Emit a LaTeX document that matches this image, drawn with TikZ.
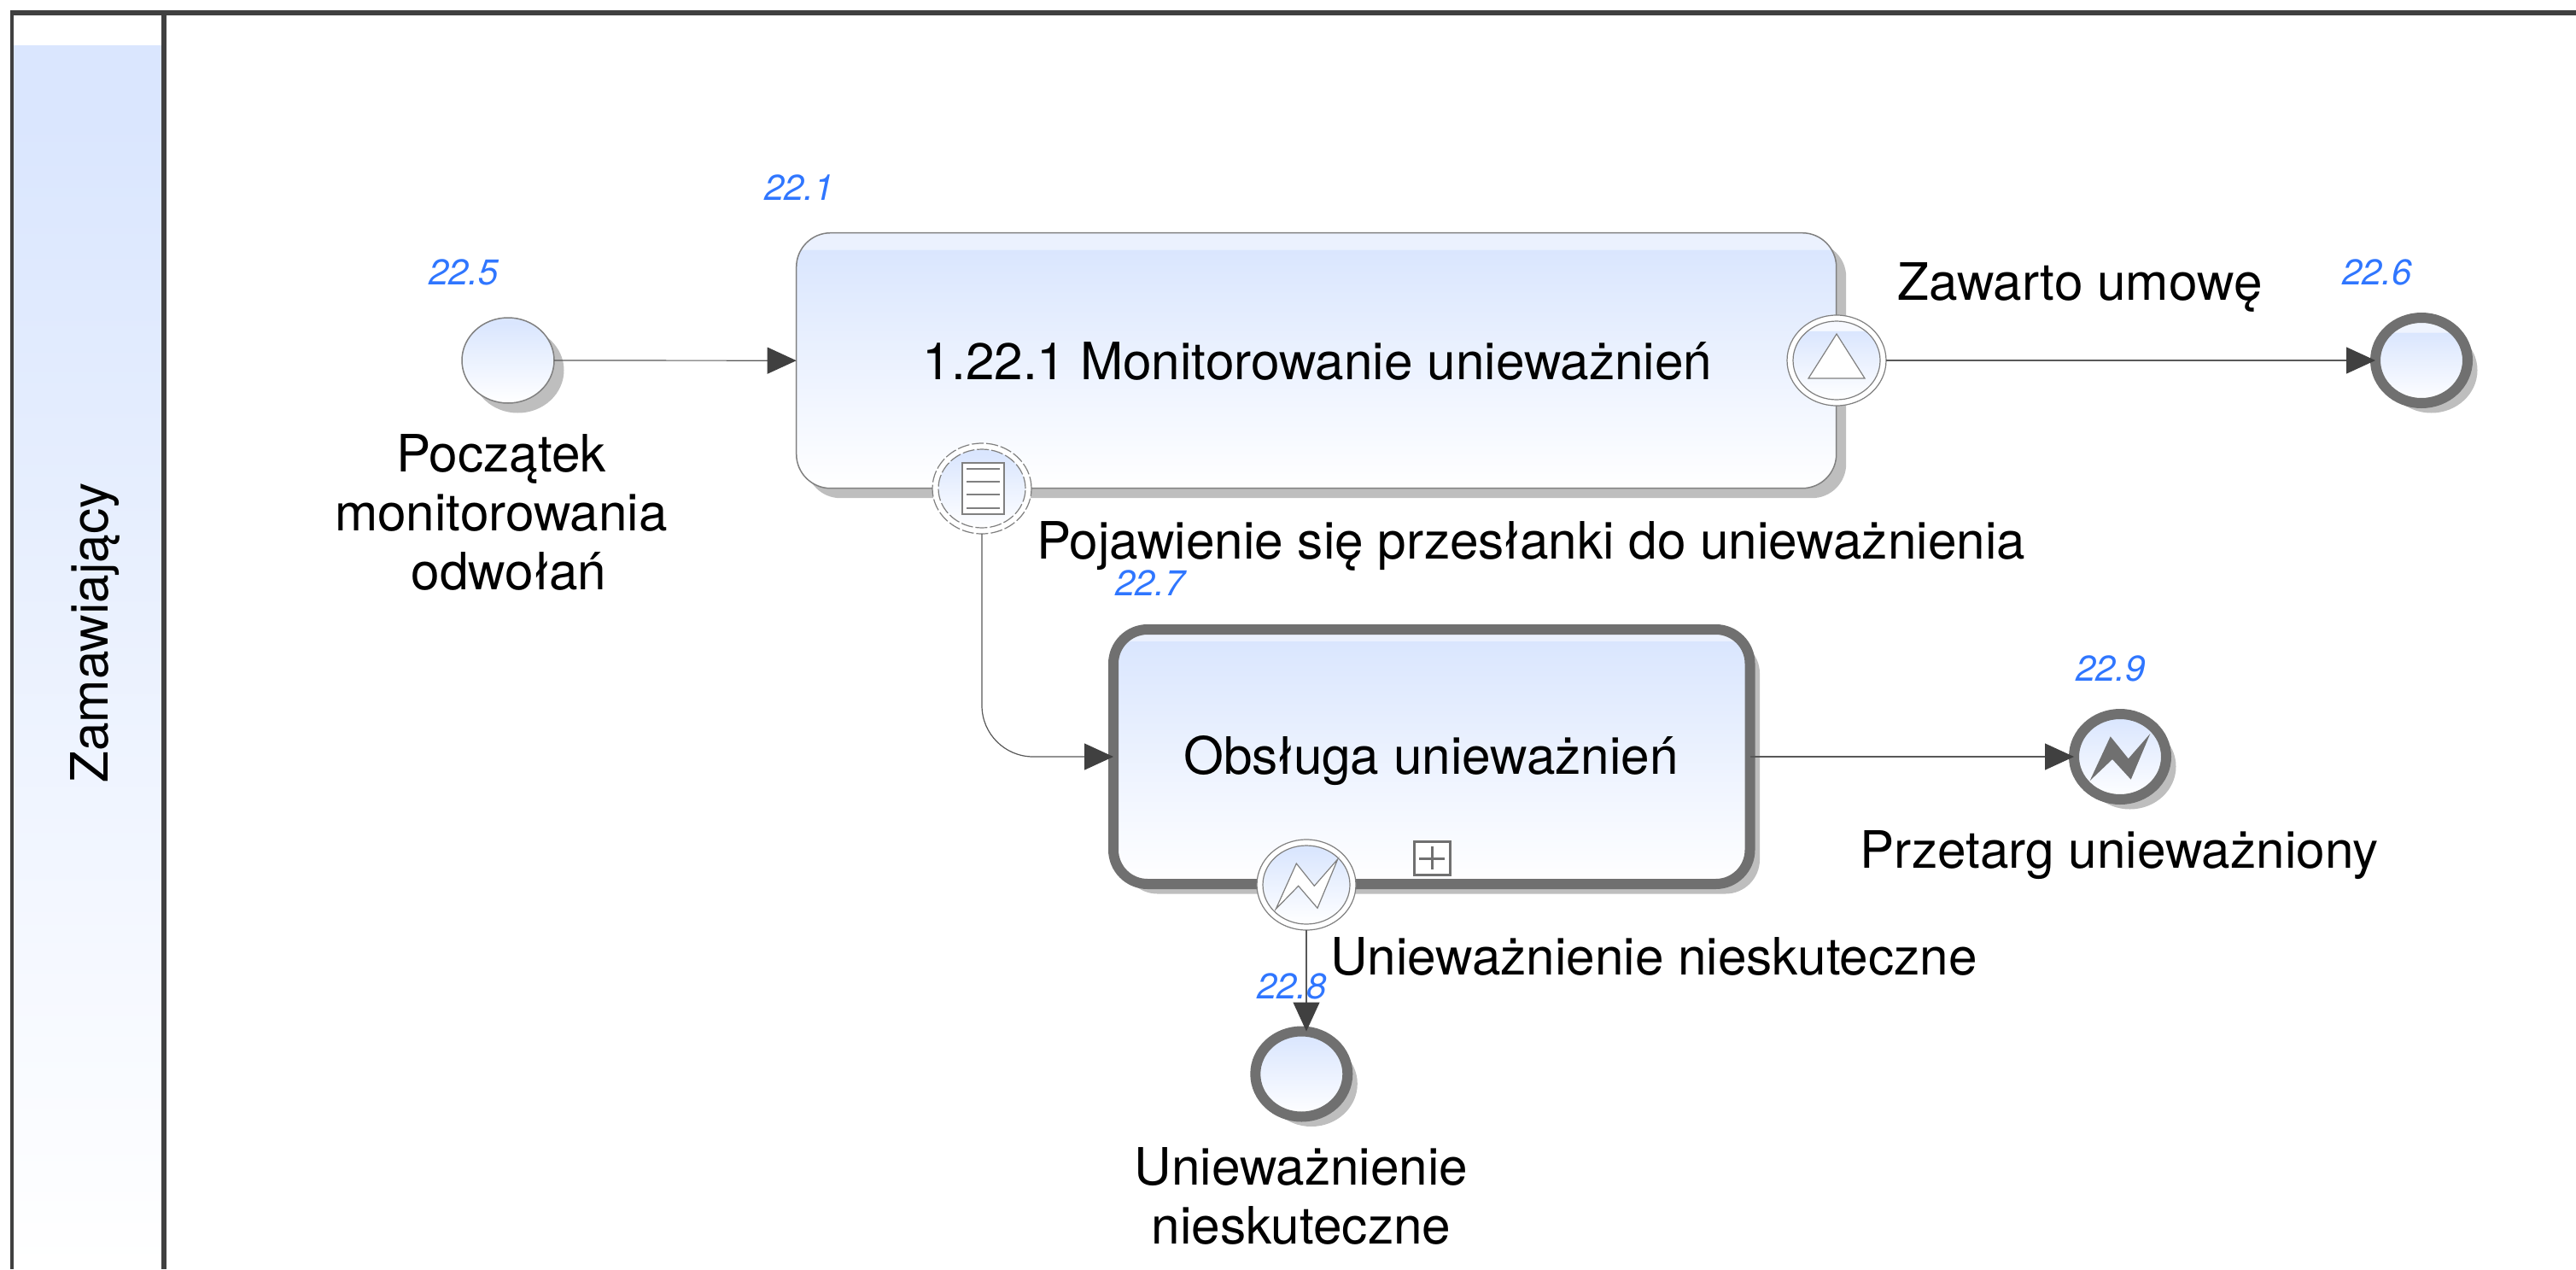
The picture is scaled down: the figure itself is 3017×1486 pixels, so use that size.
\documentclass[tikz,border=0pt]{standalone}
\usepackage{fontspec}
\setmainfont{TeX Gyre Heros}
\usetikzlibrary{arrows.meta,shapes.geometric,shadows,calc}
\definecolor{bluetop}{HTML}{DAE6FE}
\definecolor{bandtop}{HTML}{EBF1FE}
\definecolor{strokeg}{HTML}{808080}
\definecolor{thickg}{HTML}{707070}
\definecolor{shadowg}{HTML}{BEBEBE}
\definecolor{framec}{HTML}{404040}
\definecolor{linkc}{HTML}{585858}
\definecolor{idblue}{HTML}{2F76FF}
\pgfdeclareverticalshading{bandshade}{100bp}{color(0bp)=(white); color(25bp)=(white); color(71.7bp)=(bluetop); color(71.8bp)=(bandtop); color(75bp)=(bandtop); color(100bp)=(bandtop)}
\pgfdeclareverticalshading{bandshadeb}{100bp}{color(0bp)=(white); color(25bp)=(white); color(72.7bp)=(bluetop); color(72.8bp)=(bandtop); color(75bp)=(bandtop); color(100bp)=(bandtop)}
\pgfdeclareverticalshading{bandshadec}{100bp}{color(0bp)=(white); color(25bp)=(white); color(66.4bp)=(bluetop); color(66.5bp)=(bandtop!80!white); color(75bp)=(bandtop!80!white); color(100bp)=(white)}
\pgfdeclareverticalshading{bandshaded}{100bp}{color(0bp)=(white); color(25bp)=(white); color(68.9bp)=(bluetop); color(69bp)=(bandtop!40!white); color(75bp)=(bandtop!40!white); color(100bp)=(white)}
\pgfdeclareverticalshading{plainshade}{100bp}{color(0bp)=(white); color(25bp)=(white); color(72bp)=(bluetop); color(100bp)=(bluetop)}
\tikzset{
  shadowed/.style={general shadow={shadow xshift=11.5pt,shadow yshift=-11.5pt,fill=shadowg,draw=none}},
  taskthin/.style={rectangle,rounded corners=40pt,inner sep=0pt,outer sep=0pt,shading=bandshade,draw=strokeg,line width=1.5pt,shadowed},
  taskthick/.style={rectangle,rounded corners=40pt,inner sep=0pt,outer sep=0pt,shading=bandshadeb,draw=thickg,line width=12pt,shadowed},
  startev/.style={ellipse,inner sep=0pt,outer sep=0pt,minimum width=108pt,minimum height=100pt,shading=plainshade,draw=strokeg,line width=1.5pt,shadowed},
  endev/.style={ellipse,inner sep=0pt,outer sep=0pt,minimum width=108pt,minimum height=100pt,shading=plainshade,draw=thickg,line width=12pt,shadowed},
  ringout/.style={ellipse,inner sep=0pt,outer sep=0pt,minimum width=116pt,minimum height=106pt,fill=white,draw=strokeg,line width=1.2pt},
  ringin/.style={ellipse,inner sep=0pt,outer sep=0pt,minimum width=102pt,minimum height=92pt,shading=plainshade,draw=strokeg,line width=1.2pt},
  label/.style={font=\fontsize{60.3}{69}\selectfont,text=black,inner sep=0pt,align=center},
  idlabel/.style={font=\fontsize{42}{48}\selectfont\itshape,text=idblue,inner sep=0pt},
  linkdark/.style={draw=linkc,line width=1.2pt,arrows={-{Triangle[length=34pt,width=31pt,fill=framec,color=framec]}}},
  frameline/.style={draw=framec},
  iconline/.style={draw=strokeg,line width=1.2pt}
}
\begin{document}
\begin{tikzpicture}[x=1pt,y=-1pt]
\useasboundingbox (0,0) rectangle (3017,1486);
% lane
\node[rectangle,inner sep=0pt,outer sep=0pt,minimum width=173.5pt,minimum height=1433pt,shading=plainshade] (lanehead) at (102.25,769.5) {};
\draw[frameline,line width=6pt] (12,15) -- (3017,15);
\draw[frameline,line width=3.5pt] (13.75,12) -- (13.75,1486);
\draw[frameline,line width=6pt] (192,18) -- (192,1486);
\node[label,rotate=90] (lanename) at (111,741) {Zamawiający};
% tasks
\node[taskthin,minimum width=1218pt,minimum height=299pt] (task1) at (1541.7,422.2) {};
\node[taskthick,minimum width=745.5pt,minimum height=298pt] (task2) at (1676.75,886) {};
% events
\node[startev] (start) at (595,422) {};
\node[endev,shading=bandshadec] (end6) at (2836,422) {};
\node[endev] (end8) at (1524.3,1257.5) {};
\node[endev] (end9) at (2483,886) {};
% boundary events
\node[ringout,dashed,dash pattern=on 14pt off 3pt] (docout) at (1150,572) {};
\node[ringin,dashed,dash pattern=on 14pt off 3pt] (docin) at (1150,572) {};
\node[ringout] (triout) at (2151,422) {};
\node[ringin,shading=bandshaded] (triin) at (2151,422) {};
\node[ringout] (boltout) at (1530,1036) {};
\node[ringin] (boltin) at (1530,1036) {};
% icons
\draw[draw=strokeg,line width=1.8pt,fill=white] (1127,542) rectangle (1176,602);
\foreach \yy in {549,564,579,595} \draw[iconline] (1132,\yy) -- (1171,\yy);
\draw[iconline,fill=white] (2151,391) -- (2184,443) -- (2118,443) -- cycle;
\draw[iconline,fill=white] (1494.3,1064.3) -- (1518.3,1011) -- (1539.3,1037.3) -- (1566.7,1006) -- (1543,1063.3) -- (1520.7,1037.3) -- cycle;
\fill[thickg] (2447.7,914) -- (2471.7,862.3) -- (2492.7,888.3) -- (2518.3,859) -- (2495.7,912.7) -- (2474,889) -- cycle;
\draw[draw=thickg,line width=3pt,fill=white] (1656.5,985) rectangle (1698,1024);
\draw[draw=thickg,line width=3pt] (1662,1005) -- (1692,1005) (1677,991) -- (1677,1018);
% connectors
\draw[linkdark] (start.east) -- (task1.west);
\draw[linkdark] (triout.east) -- (end6.west);
\draw[linkdark,rounded corners=60pt] (docout.south) |- (task2.west);
\draw[linkdark] (task2.east) -- (end9.west);
\draw[linkdark] (boltout.south) -- (boltout.south |- end8.north);
% labels
\node[idlabel] (id1) at (936,220) {22.1};
\node[idlabel] (id5) at (543,319) {22.5};
\node[idlabel] (id6) at (2784,319) {22.6};
\node[idlabel] (id7) at (1347,683) {22.7};
\node[idlabel] (id8) at (1513,1155) {22.8};
\node[idlabel] (id9) at (2472,783) {22.9};
\node[label] (t1) at (1543,423) {1.22.1 Monitorowanie unieważnień};
\node[label] (t2) at (1676,891) {Obsługa unieważnień};
\node[label] (l5) at (587,600) {Początek\\monitorowania\\\hspace*{18pt}odwołań};
\node[label] (l6) at (2436,336) {Zawarto umowę};
\node[label] (l7) at (1793,639) {Pojawienie się przesłanki do unieważnienia};
\node[label] (l9) at (2482,1001) {Przetarg unieważniony};
\node[label] (l8a) at (1937,1120) {Unieważnienie nieskuteczne};
\node[label] (l8b) at (1524,1400) {Unieważnienie\\nieskuteczne};
\end{tikzpicture}
\end{document}
